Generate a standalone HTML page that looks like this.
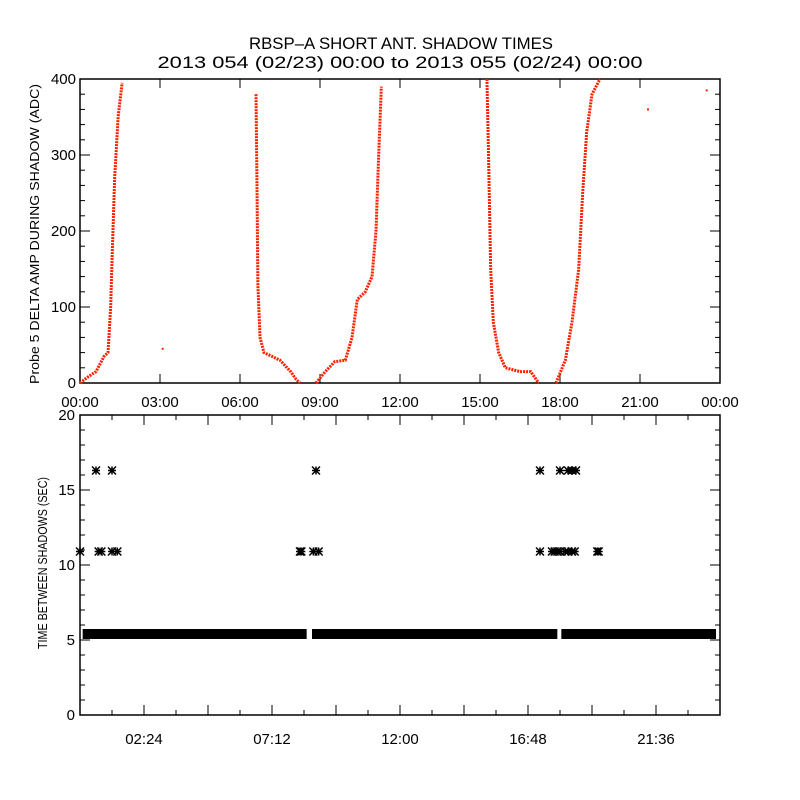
<!DOCTYPE html>
<html><head><meta charset="utf-8"><style>
html,body{margin:0;padding:0;background:#fff;}
svg{display:block;font-family:"Liberation Sans","DejaVu Sans",sans-serif;}
</style></head><body>
<svg id="c" width="800" height="800" viewBox="0 0 800 800">
<rect width="800" height="800" fill="#fff"/>
<text x="401" y="49" font-size="17" text-anchor="middle" textLength="304" lengthAdjust="spacingAndGlyphs">RBSP–A SHORT ANT. SHADOW TIMES</text>
<text x="400" y="68" font-size="17" text-anchor="middle" textLength="485" lengthAdjust="spacingAndGlyphs">2013 054 (02/23) 00:00 to 2013 055 (02/24) 00:00</text>
<text transform="translate(39,234) rotate(-90)" font-size="13" text-anchor="middle" textLength="300" lengthAdjust="spacingAndGlyphs">Probe 5 DELTA AMP DURING SHADOW (ADC)</text>
<text transform="translate(47,563) rotate(-90)" font-size="13" text-anchor="middle" textLength="172" lengthAdjust="spacingAndGlyphs">TIME BETWEEN SHADOWS (SEC)</text>
<g id="topPanel"></g>
<g id="botPanel"></g>
</svg>
<script>
// top panel data: hours, ADC values
const curve1T=[0,0.3,0.6,0.75,0.9,1.05,1.15,1.2,1.3,1.43,1.58];
const curve1V=[0,8,15,25,35,40,100,160,270,350,395];
const curve2T=[6.6,6.64,6.67,6.75,6.9,7.2,7.5,7.9,8.1,8.25];
const curve2V=[380,250,130,60,40,35,30,15,5,0];
const curve3T=[8.85,9.2,9.55,9.95,10.2,10.4,10.7,10.95,11.1,11.2,11.3];
const curve3V=[0,15,28,30,60,110,120,140,200,300,390];
const curve4T=[15.26,15.32,15.4,15.5,15.7,15.95,16.5,16.9,17.2];
const curve4V=[400,300,150,80,40,20,15,15,0];
const curve5T=[17.85,18.2,18.45,18.7,18.85,19.0,19.2,19.5];
const curve5V=[0,30,80,150,250,330,380,400];
const isoT=[3.1,21.3,23.5];
const isoV=[45,360,385];
const topXTicks=["00:00","03:00","06:00","09:00","12:00","15:00","18:00","21:00","00:00"];
const topYTicks=[0,100,200,300,400];
// bottom panel data
const baseStart=[0.1,8.7,18.05];
const baseEnd=[8.5,17.9,23.85];
const baseVal=5.4;
const star11T=[0.0,0.7,0.8,1.2,1.4,8.25,8.3,8.75,8.95,17.25,17.7,17.8,17.9,18.0,18.2,18.3,18.45,18.55,19.4,19.45];
const star11V=[10.9,10.9,10.9,10.9,10.9,10.9,10.9,10.9,10.9,10.9,10.9,10.9,10.9,10.9,10.9,10.9,10.9,10.9,10.9,10.9];
const star16T=[0.6,1.2,8.85,17.25,18.0,18.3,18.45,18.6];
const star16V=[16.3,16.3,16.3,16.3,16.3,16.3,16.3,16.3];
const botXTicks=["02:24","07:12","12:00","16:48","21:36"];
const botXTickHours=[2.4,7.2,12,16.8,21.6];
const botYTicks=[0,5,10,15,20];

const NS="http://www.w3.org/2000/svg";
function mk(tag,attrs,parent){const e=document.createElementNS(NS,tag);for(const k in attrs)e.setAttribute(k,attrs[k]);parent.appendChild(e);return e;}
const L=80,R=720;
const xs=h=>L+h/24*(R-L);
const yT=v=>383-v/400*304;
const yB=v=>715-v/20*300;
const topG=document.getElementById('topPanel'),botG=document.getElementById('botPanel');

// top axes
let fr=mk('rect',{x:L,y:79,width:R-L,height:304,fill:'none',stroke:'#000','stroke-width':1.5},topG);


topXTicks.forEach((t,i)=>{const x=xs(i*3);
 mk('line',{x1:x,x2:x,y1:383,y2:374,stroke:'#000'},topG);
 mk('line',{x1:x,x2:x,y1:79,y2:88,stroke:'#000'},topG);
 const tx=mk('text',{x:x,y:407,'font-size':15,'text-anchor':'middle'},topG);tx.textContent=t;
 
 
});
for(let v=0;v<=400;v+=20){const y=yT(v);const len=v%100===0?10:5;
 mk('line',{x1:L,x2:L+len,y1:y,y2:y,stroke:'#000'},topG);
 mk('line',{x1:R,x2:R-len,y1:y,y2:y,stroke:'#000'},topG);}
topYTicks.forEach(v=>{const tx=mk('text',{x:L-4,y:yT(v)+5,'font-size':15,'text-anchor':'end'},topG);tx.textContent=v;
 
 });

[[curve1T,curve1V],[curve2T,curve2V],[curve3T,curve3V],[curve4T,curve4V],[curve5T,curve5V]].forEach((c,ci)=>{
 const pts=c[0].map((t,i)=>xs(t)+','+yT(c[1][i])).join(' ');
 const pl=mk('polyline',{points:pts,fill:'none',stroke:'#ff2000','stroke-width':3,'stroke-dasharray':'2 1'},topG);
 
 
});
isoT.forEach((t,i)=>{const d=mk('rect',{x:xs(t)-1,y:yT(isoV[i])-1,width:2,height:2,fill:'#ff2000'},topG);
 
 });

// bottom axes
fr=mk('rect',{x:L,y:415,width:R-L,height:300,fill:'none',stroke:'#000','stroke-width':1.5},botG);


for(let k=1;k<20;k++){const h=k*1.2;const x=xs(h);const len=(k%2===0)?10:5;
 mk('line',{x1:x,x2:x,y1:715,y2:715-len,stroke:'#000'},botG);
 mk('line',{x1:x,x2:x,y1:415,y2:415+len,stroke:'#000'},botG);}
botXTicks.forEach((t,i)=>{const tx=mk('text',{x:xs(botXTickHours[i]),y:744,'font-size':15,'text-anchor':'middle'},botG);tx.textContent=t;
 
 });
for(let v=0;v<=20;v+=1){const y=yB(v);const len=v%5===0?10:5;
 mk('line',{x1:L,x2:L+len,y1:y,y2:y,stroke:'#000'},botG);
 mk('line',{x1:R,x2:R-len,y1:y,y2:y,stroke:'#000'},botG);}
botYTicks.forEach(v=>{const tx=mk('text',{x:L-5,y:yB(v)+5,'font-size':15,'text-anchor':'end'},botG);tx.textContent=v;
 
 });

baseStart.forEach((s,i)=>{const b=mk('rect',{x:xs(s),y:yB(baseVal)-5,width:xs(baseEnd[i])-xs(s),height:10,fill:'#000'},botG);
 
 });
function star(t,v){const cx=xs(t),cy=yB(v),s=4;
 const d=`M${cx-s},${cy}H${cx+s}M${cx},${cy-s}V${cy+s}M${cx-s},${cy-s}L${cx+s},${cy+s}M${cx-s},${cy+s}L${cx+s},${cy-s}`;
 const g=mk('path',{d:d,stroke:'#000','stroke-width':1.5,fill:'none'},botG);
 
 }
star11T.forEach((t,i)=>star(t,star11V[i]));
star16T.forEach((t,i)=>star(t,star16V[i]));
</script>
</body></html>
